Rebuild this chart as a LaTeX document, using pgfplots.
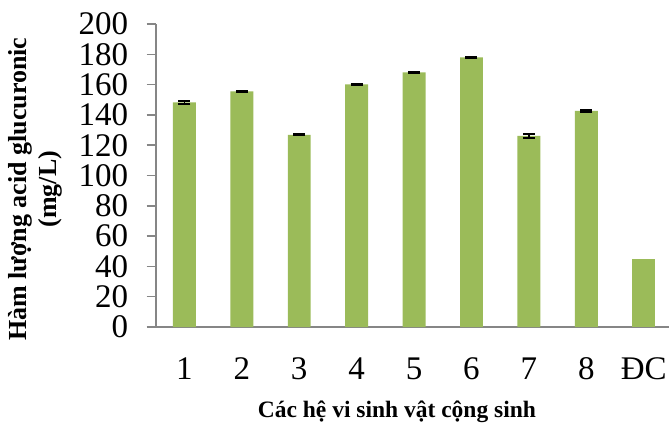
\documentclass[border=0pt]{standalone}
\usepackage{fontspec}
\setmainfont{Liberation Serif}
\usepackage{pgfplots}
\pgfplotsset{compat=1.18}
\definecolor{bargreen}{HTML}{9BBB59}
\definecolor{axisgray}{HTML}{868686}
\begin{document}
\begin{tikzpicture}
\begin{axis}[
  name=ax,
  scale only axis,
  width=513.3pt, height=303pt,
  xmin=0.5, xmax=9.44,
  ymin=0, ymax=200,
  axis x line=bottom, axis y line=left,
  axis line style={-, axisgray, line width=1.8pt},
  ytick={0,20,...,200},
  xtick={1,...,9},
  xticklabels={1,2,3,4,5,6,7,8,ĐC},
  x tick style={draw=none},
  y tick style={axisgray, line width=1.5pt},
  tick align=outside,
  major tick length=9pt,
  /pgf/number format/assume math mode=true,
  tick label style={font=\fontsize{33}{33}\selectfont},
  yticklabel style={xshift=-15pt},
  xticklabel style={yshift=-18pt},
  ylabel={Hàm lượng acid glucuronic\\(mg/L)},
  ylabel style={align=center, font=\bfseries\fontsize{26}{30}\selectfont,
    at={(axis description cs:-0.1748,0.455)}, anchor=south},
  xlabel={Các hệ vi sinh vật cộng sinh},
  xlabel style={font=\bfseries\fontsize{23.5}{26}\selectfont,
    at={(axis description cs:0.47,0)}, anchor=base, yshift=-90pt},
  ybar, bar width=0.4,
  clip=false,
]
% symbiotic cultures 1-8, with standard deviations
\addplot[fill=bargreen, draw=none, bar shift=0pt,
  error bars/.cd, y dir=both, y explicit,
  error bar style={black, line width=1.5pt},
  error mark options={black, line width=2.2pt, mark size=6pt, rotate=90}]
  coordinates {
  (1,148.3) +- (0,0.9)
  (2,155.6) +- (0,0.4)
  (3,126.8) +- (0,0.3)
  (4,160.2) +- (0,0.4)
  (5,168.1) +- (0,0.4)
  (6,178.0) +- (0,0.4)
  (7,126.1) +- (0,1.3)
  (8,142.6) +- (0,0.5)
};
% control
\addplot[fill=bargreen, draw=none, bar shift=0pt] coordinates {(9,44.7)};
\end{axis}
\pgfresetboundingbox
\path[use as bounding box] ([xshift=-155.7pt,yshift=-96pt]ax.south west) rectangle ([yshift=24pt]ax.north east);
\end{tikzpicture}
\end{document}
